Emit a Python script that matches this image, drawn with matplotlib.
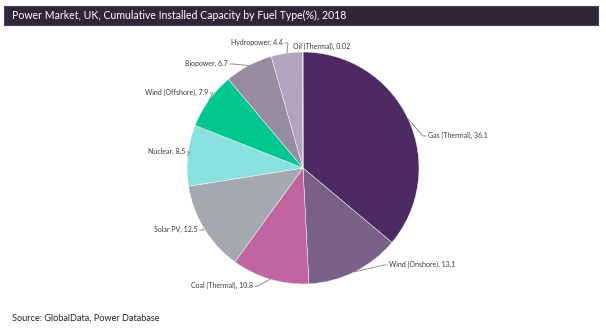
import matplotlib
matplotlib.use("Agg")
import matplotlib.pyplot as plt
import numpy as np
from matplotlib.patches import Rectangle

plt.rcParams['font.family'] = ['Lato', 'DejaVu Sans']

categories = ["Gas (Thermal)", "Wind (Onshore)", "Coal (Thermal)", "Solar PV", "Nuclear",
              "Wind (Offshore)", "Biopower", "Hydropower", "Oil (Thermal)"]
values = [36.1, 13.1, 10.8, 12.5, 8.5, 7.9, 6.7, 4.4, 0.02]
value_labels = ["36.1", "13.1", "10.8", "12.5", "8.5", "7.9", "6.7", "4.4", "0.02"]
colors = ["#4e2a63", "#7a6189", "#c0649f", "#a3a9ae", "#88e0df", "#00c690", "#978b9f", "#b2a3bf", "#6a5f74"]

# label text anchor positions (pixels), alignment, and whether a leader line is drawn
label_pos = [(428, 135, 'left', True), (389, 264, 'left', True), (253, 285, 'right', True),
             (198, 229, 'right', True), (185, 151, 'right', True), (208, 92, 'right', True),
             (228, 63, 'right', True), (283, 42, 'right', True), (293, 46, 'left', False)]

W, H = 606, 331
fig = plt.figure(figsize=(W / 100, H / 100), dpi=100)

# title bar
fig.patches.append(Rectangle((4 / W, 1 - 25 / H), 594 / W, 19 / H, transform=fig.transFigure,
                             facecolor="#2e2639", edgecolor="#4a4352", lw=0.8))
fig.text(12 / W, 1 - 15.5 / H, "Power Market, UK, Cumulative Installed Capacity by Fuel Type(%), 2018",
         color="white", fontsize=7.6, va="center", ha="left")

cx, cy, r = 303, 168, 116
ax = fig.add_axes([(cx - r) / W, 1 - (cy + r) / H, 2 * r / W, 2 * r / H])
wedges, _ = ax.pie(values, colors=colors, startangle=90, counterclock=False, radius=1.0,
                   wedgeprops=dict(linewidth=0.3, edgecolor="white"))
ax.set_xlim(-1, 1)
ax.set_ylim(-1, 1)
ax.set_aspect('equal')
ax.axis('off')

for w, cat, vl, (px, py, ha, lead) in zip(wedges, categories, value_labels, label_pos):
    ang = np.deg2rad((w.theta1 + w.theta2) / 2)
    ex = cx + r * np.cos(ang)
    ey = cy - r * np.sin(ang)
    tx = px - 2 if ha == 'left' else px + 2
    if lead:
        if ha == 'right':
            xs = [ex, tx + 3, tx]
            ys = [ey, py + 1, py + 1]
        else:
            xs = [ex, tx - 3, tx]
            ys = [ey, py + 1, py + 1]
        fig.add_artist(plt.Line2D(np.array(xs) / W, 1 - np.array(ys) / H,
                                  transform=fig.transFigure, color="#7f7f7f", lw=0.6))
    fig.text(px / W, 1 - py / H, f"{cat}, {vl}", fontsize=5.0, color="#3a3a3a",
             ha=ha, va="center")

fig.text(12 / W, 1 - 318 / H, "Source: GlobalData, Power Database", fontsize=6.6,
         color="#222222", va="center", ha="left")

fig.savefig("out.png", dpi=100)
